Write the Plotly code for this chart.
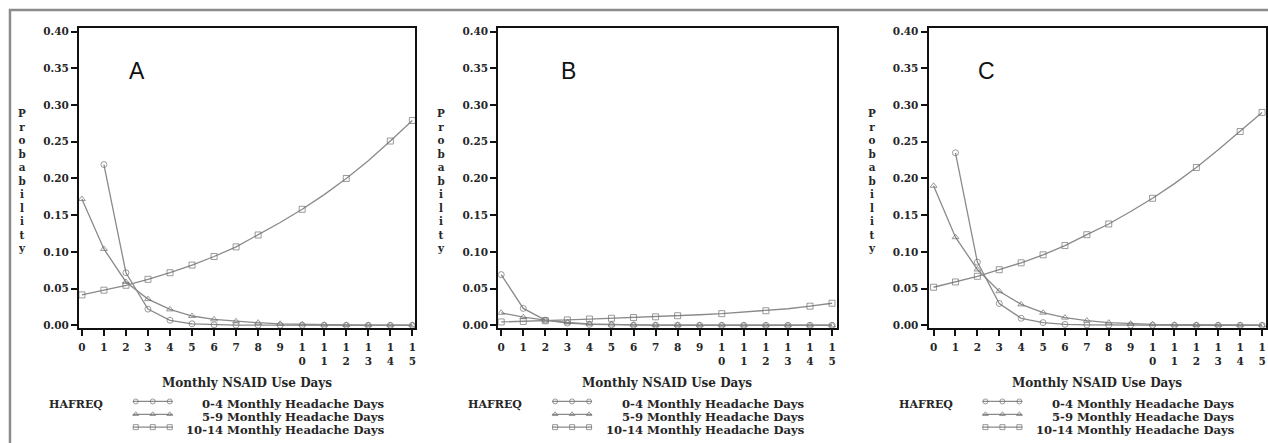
import plotly.graph_objects as go

# ---- data -----------------------------------------------------------------
nsaid_days = list(range(16))
x_tick_text = ["0", "1", "2", "3", "4", "5", "6", "7", "8", "9",
               "1<br>0", "1<br>1", "1<br>2", "1<br>3", "1<br>4", "1<br>5"]
series_names = ["0-4 Monthly Headache Days",
                "5-9 Monthly Headache Days",
                "10-14 Monthly Headache Days"]
panel_labels = ["A", "B", "C"]

a_low = [None, 0.219, 0.0716, 0.022, 0.0068, 0.002, 0.0006, 0.0002, 0.0001,
         0.0, 0.0, 0.0, 0.0, 0.0, 0.0, 0.0]
a_mid = [0.172, 0.104, 0.059, 0.0356, 0.0216, 0.0126, 0.008, 0.0054, 0.0035,
         0.002, 0.0012, 0.0007, 0.0004, 0.0002, 0.0001, 0.0001]
a_high = [0.0414, 0.0478, 0.0545, 0.0626, 0.0716, 0.082, 0.0937, 0.1068, 0.123,
          0.140, 0.158, 0.178, 0.200, 0.224, 0.251, 0.279]

b_low = [0.069, 0.023, 0.007, 0.003, 0.0012, 0.0005, 0.0002, 0.0001, 0.0,
         0.0, 0.0, 0.0, 0.0, 0.0, 0.0, 0.0]
b_mid = [0.017, 0.011, 0.007, 0.0038, 0.002, 0.001, 0.0006, 0.0003, 0.0002,
         0.0001, 0.0001, 0.0, 0.0, 0.0, 0.0, 0.0]
b_high = [0.0045, 0.0052, 0.0062, 0.0073, 0.0085, 0.0095, 0.0105, 0.0115, 0.013,
          0.0143, 0.0158, 0.0177, 0.0198, 0.0225, 0.026, 0.030]

c_low = [None, 0.235, 0.086, 0.0297, 0.0095, 0.0036, 0.0012, 0.0005, 0.0002,
         0.0001, 0.0, 0.0, 0.0, 0.0, 0.0, 0.0]
c_mid = [0.19, 0.12, 0.076, 0.0464, 0.0284, 0.0171, 0.0104, 0.0063, 0.0036,
         0.0021, 0.0012, 0.0007, 0.0004, 0.0002, 0.0001, 0.0001]
c_high = [0.0518, 0.059, 0.0667, 0.0757, 0.0851, 0.096, 0.1086, 0.1234, 0.138,
          0.155, 0.173, 0.193, 0.215, 0.239, 0.264, 0.290]

panels = [(a_low, a_mid, a_high), (b_low, b_mid, b_high), (c_low, c_mid, c_high)]

# ---- layout constants (pixels) -------------------------------------------
W, H = 1268, 443
plot_top, plot_bottom = 26, 330
plot_lr = [(78, 415), (498, 837), (929, 1267)]
x_ranges = [(-0.136, 15.136), (-0.136, 15.21), (-0.23, 15.18)]
y_range = (-0.0041, 0.4054)

LINE = "#8a8a8a"
MARK = "#707070"
TEXT = "#262626"
SERIF = "DejaVu Serif"
symbols = ["circle-open", "triangle-up-open", "square-open"]
unmarked_rise = {9, 11, 13}


def px(x):
    return x / W


def py(y):
    return 1 - y / H


def label(text, x, y, size, xanchor="center", family=SERIF, weight="bold", color=TEXT):
    return dict(text=text, x=px(x), y=py(y), xref="paper", yref="paper",
                xanchor=xanchor, yanchor="middle", showarrow=False,
                font=dict(family=family, size=size, color=color, weight=weight))


fig = go.Figure()
annotations = []
shapes = []

for i, (series, (left, right)) in enumerate(zip(panels, plot_lr)):
    ax = "" if i == 0 else str(i + 1)
    for j, vals in enumerate(series):
        sizes = [0 if (j == 2 and d in unmarked_rise) else 6 for d in nsaid_days]
        fig.add_trace(go.Scatter(
            x=nsaid_days, y=vals, mode="lines+markers",
            name=series_names[j], showlegend=False,
            line=dict(color=LINE, width=1.3),
            marker=dict(symbol=symbols[j], size=sizes, color=MARK,
                        line=dict(width=1, color=MARK)),
            xaxis="x" + ax, yaxis="y" + ax, connectgaps=False,
        ))

    axis_common = dict(showline=True, linecolor="#111", linewidth=2, mirror=True,
                       ticks="outside", ticklen=6, tickwidth=2, tickcolor="#111",
                       showgrid=False, zeroline=False,
                       tickfont=dict(family=SERIF, size=10.5, color=TEXT, weight="bold"))
    fig.update_layout({
        "xaxis" + ax: dict(domain=[px(left), px(right)], range=list(x_ranges[i]),
                           tickvals=nsaid_days, ticktext=x_tick_text,
                           ticklabelstandoff=2, anchor="y" + ax, **axis_common),
        "yaxis" + ax: dict(domain=[py(plot_bottom), py(plot_top)], range=list(y_range),
                           tickvals=[k * 0.05 for k in range(9)], tickformat=".2f",
                           anchor="x" + ax, **axis_common),
    })

    # panel letter
    annotations.append(label(panel_labels[i], left + (58 if i != 1 else 70), 70, 23,
                             family="Liberation Sans", weight="normal", color="#111"))
    # vertical stacked axis title
    annotations.append(label("<br>".join("Probability"), left - 57, 181, 10.4))
    # x axis title
    annotations.append(label("Monthly NSAID Use Days", (left + right) / 2, 385, 12))
    # legend block
    annotations.append(label("HAFREQ", left - 32, 407, 11, xanchor="left"))
    for j, name in enumerate(series_names):
        row_y = 407 + 13 * j
        annotations.append(label(name, left + 309, row_y, 11.6, xanchor="right"))
        fig.add_trace(go.Scatter(
            x=[left + 54, left + 57, left + 74, left + 91, left + 94],
            y=[row_y - 3] * 5, mode="lines+markers", showlegend=False, hoverinfo="skip",
            line=dict(color=LINE, width=1.3),
            marker=dict(symbol=symbols[j], size=[0, 5, 5, 5, 0], color=MARK,
                        line=dict(width=1, color=MARK)),
            xaxis="x4", yaxis="y4",
        ))

# pixel-space overlay axes for the legend keys
fig.update_layout(
    xaxis4=dict(domain=[0, 1], range=[0, W], visible=False, fixedrange=True, anchor="y4"),
    yaxis4=dict(domain=[0, 1], range=[H, 0], visible=False, fixedrange=True, anchor="x4"),
)

# outer frame (top and left edges visible)
shapes.append(dict(type="rect", xref="paper", yref="paper",
                   x0=px(9), x1=px(W + 10), y0=py(H + 10), y1=py(8),
                   line=dict(color="#8c8c8c", width=2.5)))

fig.update_layout(
    width=W, height=H, margin=dict(l=0, r=0, t=0, b=0),
    paper_bgcolor="white", plot_bgcolor="rgba(0,0,0,0)",
    annotations=annotations, shapes=shapes, showlegend=False,
)

fig.write_html("out.html")
